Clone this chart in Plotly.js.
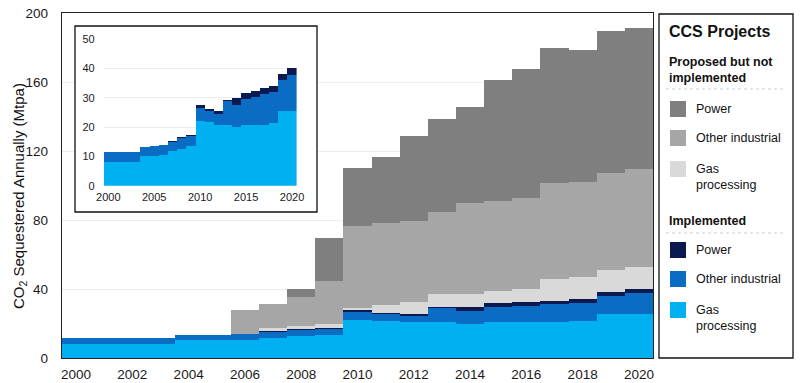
<!DOCTYPE html>
<html><head><meta charset="utf-8">
<script src="https://cdn.plot.ly/plotly-3.0.1.min.js"></script>
<style>html,body{margin:0;padding:0;background:#fff}#chart{width:800px;height:383px}</style>
</head><body><div id="chart"></div>
<script>
// ---------- data ----------
const years = [2000,2001,2002,2003,2004,2005,2006,2007,2008,2009,2010,2011,2012,2013,2014,2015,2016,2017,2018,2019,2020];
// Implemented (Mtpa, stacked increments)
const implGas   = [8.0,8.0,8.0,8.0,10.2,10.2,10.4,11.8,12.6,13.5,22.0,21.7,20.6,20.6,19.9,20.6,20.7,20.7,21.4,25.4,25.4];
const implOther = [3.5,3.5,3.5,3.5,3.1,3.3,3.5,3.2,3.5,3.3,4.5,3.7,3.8,8.3,7.6,8.8,9.6,10.6,10.6,10.5,12.4];
const implPower = [0,0,0,0,0,0,0,0.4,0.5,0.5,1.1,0.9,0.9,0.4,2.3,2.2,2.1,1.9,2.1,2.1,2.3];
// Proposed but not implemented (Mtpa, stacked increments)
const propGas   = [0,0,0,0,0,0,0,1.8,1.8,2.3,1.4,4.4,7.2,7.6,7.4,7.2,7.4,12.8,12.7,13.0,12.5];
const propOther = [0,0,0,0,0,0,13.9,14.0,16.8,25.0,47.5,47.4,46.9,47.9,52.5,52.4,53.1,55.5,55.4,56.4,56.8];
const propPower = [0,0,0,0,0,0,0,0,4.6,24.8,33.5,38.6,49.3,53.8,56.0,69.8,74.4,78.0,76.4,82.0,82.1];

const mainXTicks  = [2000,2002,2004,2006,2008,2010,2012,2014,2016,2018,2020];
const mainYTicks  = [0,40,80,120,160,200];
const insetXTicks = [2000,2005,2010,2015,2020];
const insetYTicks = [0,10,20,30,40,50];

const yTitle = 'CO<sub>2</sub> Sequestered Annually (Mtpa)';
const legendTitle = 'CCS Projects';
const groupProposed = 'Proposed but not<br>implemented';
const groupImplemented = 'Implemented';
const nameGas = 'Gas<br>processing';
const nameOther = 'Other industrial';
const namePower = 'Power';

// ---------- styles ----------
const C = {
  propPower:'#7f7f7f', propOther:'#a6a6a6', propGas:'#d9d9d9',
  implPower:'#0a1a50', implOther:'#0a6cc2', implGas:'#00b0f0'
};
const FONT = 'Liberation Sans, Arial, Helvetica, sans-serif';
const W=800, H=383, ML=62, MR=147, MT=13, MB=25;
const PW=W-ML-MR, PH=H-MT-MB;
const px = p => (p-ML)/PW;
const py = p => (H-MB-p)/PH;

function bar(y, color, name, xa, ya){
  return {type:'bar', x:years, y:y, name:name, xaxis:xa, yaxis:ya,
    marker:{color:color, line:{width:0}}, showlegend:false, hoverinfo:'skip'};
}

const traces = [
  bar(implGas,  C.implGas,  nameGas,  'x','y'),
  bar(implOther,C.implOther,nameOther,'x','y'),
  bar(implPower,C.implPower,namePower,'x','y'),
  bar(propGas,  C.propGas,  nameGas,  'x','y'),
  bar(propOther,C.propOther,nameOther,'x','y'),
  bar(propPower,C.propPower,namePower,'x','y'),
  // inset background holder
  {type:'scatter', x:[], y:[], xaxis:'x2', yaxis:'y2', showlegend:false, hoverinfo:'skip'},
  bar(implGas,  C.implGas,  nameGas,  'x3','y3'),
  bar(implOther,C.implOther,nameOther,'x3','y3'),
  bar(implPower,C.implPower,namePower,'x3','y3')
];

// ---------- frames + legend (right panel) ----------
const shapes = [
  {type:'rect', xref:'paper', yref:'paper', x0:px(75), x1:px(317), y0:py(212), y1:py(26),
   line:{color:'#111', width:1.3}, fillcolor:'rgba(0,0,0,0)', layer:'above'},
  {type:'rect', xref:'paper', yref:'paper', x0:px(659), x1:px(793), y0:py(358), y1:py(14),
   line:{color:'#111', width:1.3}, fillcolor:'rgba(0,0,0,0)', layer:'above'},
  {type:'line', xref:'paper', yref:'paper', x0:px(666), x1:px(784), y0:py(89), y1:py(89),
   line:{color:'#cfcfcf', width:1, dash:'dot'}},
  {type:'line', xref:'paper', yref:'paper', x0:px(666), x1:px(784), y0:py(233), y1:py(233),
   line:{color:'#cfcfcf', width:1, dash:'dot'}}
];
const annotations = [
  {text:'<b>'+legendTitle+'</b>', x:px(667), y:py(31), font:{size:16}},
  {text:'<b>'+groupProposed+'</b>', x:px(667), y:py(69.5), font:{size:12.5}},
  {text:'<b>'+groupImplemented+'</b>', x:px(667), y:py(221), font:{size:12.5}}
];
const legendItems = [
  {name:namePower, color:C.propPower, yc:109},
  {name:nameOther, color:C.propOther, yc:138},
  {name:nameGas,   color:C.propGas,   yc:169},
  {name:namePower, color:C.implPower, yc:250},
  {name:nameOther, color:C.implOther, yc:279},
  {name:nameGas,   color:C.implGas,   yc:310}
];
legendItems.forEach(it => {
  shapes.push({type:'rect', xref:'paper', yref:'paper', x0:px(670), x1:px(686),
    y0:py(it.yc+8), y1:py(it.yc-8), line:{width:0}, fillcolor:it.color});
  const two = it.name.indexOf('<br>')>=0;
  annotations.push({text:it.name, x:px(694), y:py(two ? it.yc+7.5 : it.yc), font:{size:12.5}});
});
annotations.forEach(a => Object.assign(a, {xref:'paper', yref:'paper', xanchor:'left', yanchor:'middle',
  align:'left', showarrow:false, font:Object.assign({family:FONT, color:'#111'}, a.font)}));
// y-axis title
annotations.push({text:yTitle, xref:'paper', yref:'paper', x:px(19), y:py(196), textangle:-90,
  xanchor:'center', yanchor:'middle', showarrow:false, font:{family:FONT, size:15, color:'#111'}});

const layout = {
  width:W, height:H, autosize:false,
  margin:{l:ML, r:MR, t:MT, b:MB, pad:0},
  paper_bgcolor:'#fff', plot_bgcolor:'#fff',
  font:{family:FONT, color:'#1a1a1a', size:13},
  barmode:'stack', bargap:0, hovermode:false, showlegend:false,
  xaxis:{domain:[0,1], range:[1999.5,2020.5], tickvals:mainXTicks, showgrid:false, zeroline:false,
    showline:true, mirror:true, linecolor:'#222', linewidth:1.3, ticks:'', ticklabelstandoff:3,
    tickfont:{size:13.5}, fixedrange:true},
  yaxis:{domain:[0,1], range:[0,200], tickvals:mainYTicks, showgrid:true, gridcolor:'#ededed', gridwidth:1,
    zeroline:false, showline:true, mirror:true, linecolor:'#222', linewidth:1.3, ticks:'',
    ticklabelstandoff:10, tickfont:{size:13.5}, fixedrange:true},
  xaxis2:{domain:[px(75), px(317)], range:[0,1], visible:false, showgrid:false, zeroline:false, anchor:'y2'},
  yaxis2:{domain:[py(212), py(26)], range:[0,1], visible:false, showgrid:false, zeroline:false, anchor:'x2'},
  xaxis3:{domain:[px(103.7), px(296.6)], range:[1999.5,2020.5], tickvals:insetXTicks, anchor:'y3',
    showgrid:false, zeroline:false, showline:false, ticks:'', ticklabelstandoff:3, tickfont:{size:11}},
  yaxis3:{domain:[py(185.7), py(39)], range:[0,50], tickvals:insetYTicks, anchor:'x3',
    showgrid:true, gridcolor:'#ededed', zeroline:false, showline:false, ticks:'', ticklabelstandoff:8,
    tickfont:{size:11}},
  shapes:shapes, annotations:annotations
};

Plotly.newPlot('chart', traces, layout, {displayModeBar:false, staticPlot:true});
</script></body></html>
